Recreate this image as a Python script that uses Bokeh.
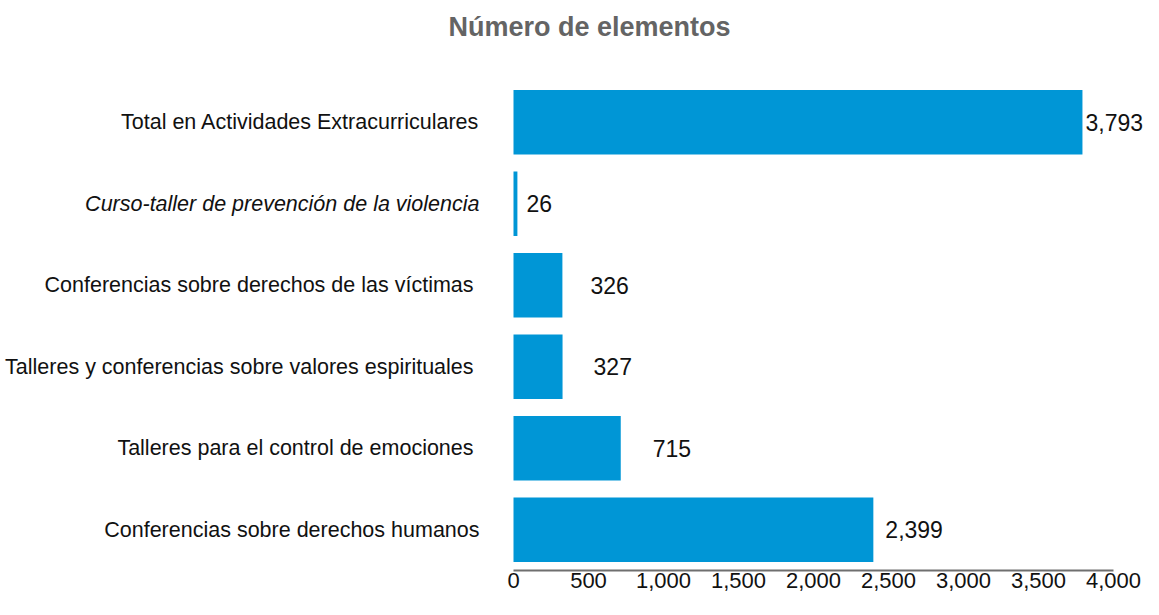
from bokeh.plotting import figure
from bokeh.models import ColumnDataSource, FixedTicker, NumeralTickFormatter, Range1d
from bokeh.core.properties import value
from bokeh.embed import file_html
from bokeh.resources import INLINE

# Data (bottom to top)
categories = [
    "Conferencias sobre derechos humanos",
    "Talleres para el control de emociones ",
    "Talleres y conferencias sobre valores espirituales ",
    "Conferencias sobre derechos de las víctimas ",
    "Curso-taller de prevención de la violencia",
    "Total en Actividades Extracurriculares",
]
values = [2399, 715, 327, 326, 26, 3793]
tick_values = [0, 500, 1000, 1500, 2000, 2500, 3000, 3500, 4000]
title_text = "Número de elementos"

# Styling helpers (not data)
italic_rows = {"Curso-taller de prevención de la violencia"}
label_gap_px = [12, 32, 31, 28, 9, 3]

FONT = "Liberation Sans"
W, H = 1143, 599
BARS_TOP, FRAME_BOTTOM = 81, 570
ZERO_PX, PX_PER_UNIT = 513, 0.15

n = len(categories)
pitch = (FRAME_BOTTOM - BARS_TOP) / n
y_top = FRAME_BOTTOM / pitch  # frame reaches the top of the canvas

src = ColumnDataSource(dict(
    cat=categories,
    pos=[i + 0.5 for i in range(n)],
    val=values,
    lbl=[f"{v:,}" for v in values],
    fstyle=["italic" if c in italic_rows else "normal" for c in categories],
    gap=label_gap_px,
))

p = figure(
    width=W, height=H,
    y_range=Range1d(0, y_top),
    x_range=Range1d(-ZERO_PX / PX_PER_UNIT, (W - ZERO_PX) / PX_PER_UNIT),
    y_axis_location=None, title_location=None,
    output_backend="svg", toolbar_location=None,
    min_border_left=0, min_border_right=0,
    min_border_top=0, min_border_bottom=H - FRAME_BOTTOM,
)

p.hbar(y="pos", left=0, right="val", height=0.79, source=src,
       fill_color="#0096d6", line_color=None)

p.text(x=0, y="pos", text="cat", source=src, x_offset=-34,
       text_align="right", text_baseline="middle",
       text_font=value(FONT), text_font_size="21.5px", text_font_style="fstyle",
       text_color="#111111")

p.text(x="val", y="pos", text="lbl", source=src, x_offset="gap",
       text_align="left", text_baseline="middle",
       text_font=value(FONT), text_font_size="23px", text_color="#111111")

# Title drawn inside the (full-height) frame
p.text(x=[(589 - ZERO_PX) / PX_PER_UNIT], y=[y_top - 26.5 / pitch], text=[title_text],
       text_align="center", text_baseline="alphabetic",
       text_font=value(FONT), text_font_size="27px", text_font_style="bold",
       text_color="#646464")

ax = p.xaxis[0]
ax.ticker = FixedTicker(ticks=tick_values)
ax.formatter = NumeralTickFormatter(format="0,0")
ax.bounds = (0, 4000)
ax.axis_line_color = "#6f6f6f"
ax.axis_line_width = 2
ax.major_tick_line_color = None
ax.minor_tick_line_color = None
ax.major_tick_out = 0
ax.major_tick_in = 0
ax.major_label_standoff = 2
ax.major_label_text_font = FONT
ax.major_label_text_font_size = "22px"
ax.major_label_text_color = "#111111"

p.grid.visible = False
p.outline_line_color = None

open("out.html", "w").write(file_html(p, INLINE))
